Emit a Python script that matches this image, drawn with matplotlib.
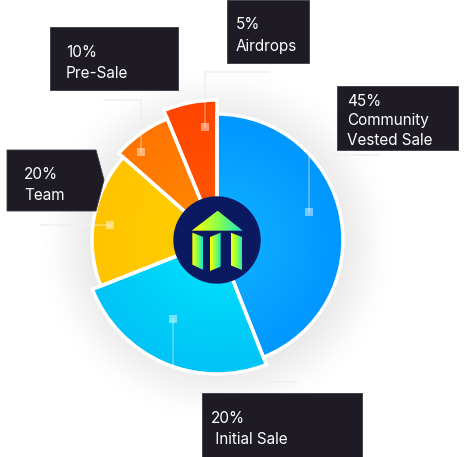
import numpy as np
import matplotlib
matplotlib.use('Agg')
import matplotlib.pyplot as plt
from matplotlib.patches import Wedge, Circle, Polygon, Rectangle
from matplotlib.colors import LinearSegmentedColormap, to_rgb

plt.rcParams['font.family'] = ['Inter', 'DejaVu Sans']

names = ['Community\nVested Sale', 'Initial Sale', 'Team', 'Pre-Sale', 'Airdrops']
shares = [44, 25, 17.5, 7.3, 6.2]
pct_text = ['45%', '20%', '20%', '10%', '5%']

# Style per slice
radii = [126, 134, 125, 131, 140]
inner_colors = ['#12b4ff', '#00e6ff', '#ffd000', '#ff8c00', '#ff5a00']
outer_colors = ['#0096ff', '#00c2f6', '#ffc400', '#ff7400', '#ff4400']

W, H = 465, 457
cx, cy = 217, 240

fig = plt.figure(figsize=(W / 100, H / 100), dpi=100)
ax = fig.add_axes([0, 0, 1, 1])
ax.set_xlim(0, W)
ax.set_ylim(H, 0)
ax.set_aspect('equal')
ax.axis('off')

# soft halo behind the pie
for r, a in zip(np.linspace(175, 128, 12), np.linspace(0.003, 0.014, 12)):
    ax.add_patch(Circle((cx, cy + 4), r, color='#707070', alpha=a, lw=0, zorder=1))

# connector lines (drawn under the slices, then again faint on top)
def connector(pts, z):
    xs, ys = zip(*pts)
    ax.plot(xs, ys, color='#ebebee', lw=1.2, zorder=z, solid_capstyle='butt')

# gradient grid for slices
yy, xx = np.mgrid[0:H, 0:W]
dist = np.hypot(xx - cx, yy - cy)

start = -90.0
total = sum(shares)
for share, r, c_in, c_out in zip(shares, radii, inner_colors, outer_colors):
    span = share / total * 360
    w = Wedge((cx, cy), r, start, start + span, facecolor='none',
              edgecolor='white', lw=2.5, zorder=4)
    ax.add_patch(w)
    t = np.clip(dist / r, 0, 1)[..., None]
    img = (1 - t) * np.array(to_rgb(c_in)) + t * np.array(to_rgb(c_out))
    im = ax.imshow(img, extent=(0, W, H, 0), zorder=3, interpolation='bilinear')
    im.set_clip_path(Wedge((cx, cy), r, start, start + span, transform=ax.transData))
    start += span

# markers and connectors
marker_pts = [(309, 212), (173, 319), (110, 225), (141, 152), (205, 127)]
paths = [
    [(309, 212), (309, 155), (380, 155)],
    [(173, 319), (173, 382), (297, 382)],
    [(110, 225), (40, 225)],
    [(141, 152), (141, 100), (103, 100)],
    [(205, 127), (205, 72), (270, 72)],
]
for p in paths:
    connector(p, 2)
    xs, ys = zip(*p)
    ax.plot(xs, ys, color='white', alpha=0.35, lw=1.2, zorder=5)
for (mx, my) in marker_pts:
    ax.add_patch(Rectangle((mx - 4, my - 4), 8, 8, color='white', alpha=0.45, lw=0, zorder=6))

# centre logo
ax.add_patch(Circle((cx, cy), 43, color='#0b1960', zorder=7))
logo_cmap = LinearSegmentedColormap.from_list('logo', ['#ffff00', '#8cff4a', '#14e6d2'])

def grad_poly(zpts):
    pts = [(170 + x / 3, 190 + y / 3) for x, y in zpts]
    xs, ys = zip(*pts)
    poly = Polygon(pts, closed=True, transform=ax.transData)
    grad = np.linspace(0, 1, 64)[None, :]
    im = ax.imshow(grad, cmap=logo_cmap, extent=(min(xs), max(xs), max(ys), min(ys)),
                   zorder=8, interpolation='bilinear')
    im.set_clip_path(poly)

grad_poly([(65, 122), (143, 62), (218, 122)])
grad_poly([(67, 128), (100, 141), (100, 240), (67, 224)])
grad_poly([(120, 141), (152, 128), (152, 230), (120, 243)])
grad_poly([(182, 128), (216, 141), (216, 240), (182, 226)])
ax.set_xlim(0, W)
ax.set_ylim(H, 0)

# label boxes
box_col = '#1e1b25'
boxes = [
    [(337, 86), (458, 86), (458, 150), (337, 150)],
    [(202, 393), (362, 393), (362, 457), (202, 457)],
    [(7, 150), (96, 150), (104, 180), (96, 211), (7, 211)],
    [(50, 27), (178, 27), (178, 90), (50, 90)],
    [(227, 0), (309, 0), (309, 63), (227, 63)],
]
text_pos = [(347, 106), (211, 423), (24, 179), (66, 57), (236, 29)]
spacing = [19.5, 21.5, 21, 21.5, 21.5]
for pts, (tx, ty), ls, pct, name in zip(boxes, text_pos, spacing, pct_text, names):
    ax.add_patch(Polygon(pts, closed=True, facecolor=box_col,
                         edgecolor='#3a3842', lw=0.6, zorder=9))
    if name == 'Initial Sale':
        name = ' ' + name
    lines = [pct] + name.split('\n')
    for i, line in enumerate(lines):
        ax.text(tx, ty + i * ls, line, color='white', fontsize=11,
                va='baseline', ha='left', zorder=10)

fig.savefig('out.png', dpi=100)
